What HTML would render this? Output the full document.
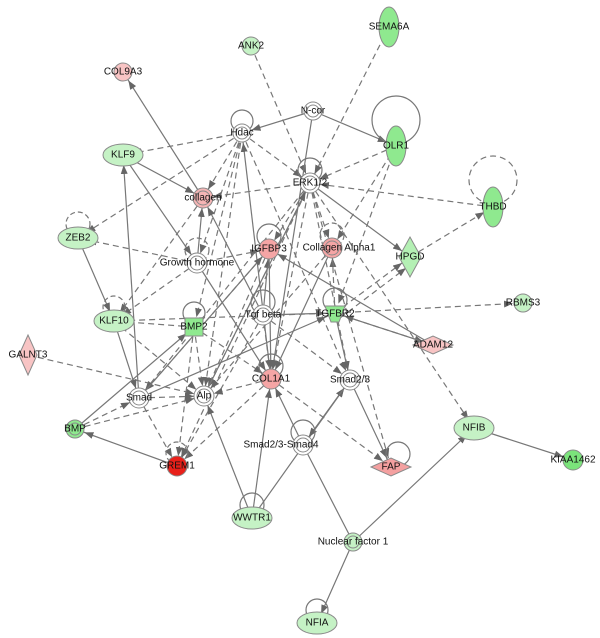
<!DOCTYPE html>
<html><head><meta charset="utf-8"><style>
html,body{margin:0;padding:0;background:#fff;}
svg{display:block;font-family:"Liberation Sans",Arial,sans-serif;}
text{font-size:10px;fill:#111;text-anchor:middle;dominant-baseline:central;}
</style></head><body>
<svg width="600" height="638" viewBox="0 0 600 638" xmlns="http://www.w3.org/2000/svg">
<defs>
<marker id="a" markerUnits="userSpaceOnUse" markerWidth="24" markerHeight="10" refX="19" refY="3.5" orient="auto"><path d="M0,0 L9,3.5 L0,7 z" fill="#666"/></marker>
</defs>
<g stroke="#777" stroke-width="1.2" fill="none" marker-end="url(#a)">
<g stroke-dasharray="6,4">
<line x1="251" y1="46" x2="310" y2="183"/>
<line x1="389" y1="27" x2="310" y2="183"/>
<line x1="396" y1="146" x2="310" y2="183"/>
<line x1="396" y1="146" x2="332" y2="248"/>
<line x1="396" y1="146" x2="335" y2="313"/>
<line x1="493" y1="207" x2="310" y2="183"/>
<line x1="410" y1="257" x2="493" y2="207"/>
<line x1="242" y1="133" x2="123" y2="155"/>
<line x1="242" y1="133" x2="78" y2="238"/>
<line x1="242" y1="133" x2="310" y2="183"/>
<line x1="242" y1="133" x2="350" y2="380"/>
<line x1="242" y1="133" x2="203" y2="198"/>
<line x1="242" y1="133" x2="197" y2="263"/>
<line x1="242" y1="133" x2="204" y2="396"/>
<line x1="242" y1="133" x2="194" y2="327"/>
<line x1="310" y1="183" x2="203" y2="198"/>
<line x1="197" y1="263" x2="78" y2="238"/>
<line x1="197" y1="263" x2="114" y2="321"/>
<line x1="197" y1="263" x2="269" y2="249"/>
<line x1="203" y1="198" x2="114" y2="321"/>
<line x1="194" y1="327" x2="114" y2="321"/>
<line x1="335" y1="313" x2="114" y2="321"/>
<line x1="114" y1="321" x2="204" y2="396"/>
<line x1="335" y1="313" x2="523" y2="303"/>
<line x1="335" y1="313" x2="433" y2="345"/>
<line x1="335" y1="313" x2="410" y2="257"/>
<line x1="340" y1="318" x2="414" y2="262"/>
<line x1="335" y1="313" x2="332" y2="248"/>
<line x1="263" y1="315" x2="271" y2="379"/>
<line x1="310" y1="183" x2="269" y2="249"/>
<line x1="310" y1="183" x2="271" y2="379"/>
<line x1="310" y1="183" x2="350" y2="380"/>
<line x1="310" y1="183" x2="204" y2="396"/>
<line x1="310" y1="183" x2="139" y2="398"/>
<line x1="310" y1="183" x2="177" y2="466"/>
<line x1="310" y1="183" x2="391" y2="467"/>
<line x1="310" y1="183" x2="474" y2="428"/>
<line x1="310" y1="183" x2="332" y2="248"/>
<line x1="28" y1="355" x2="204" y2="396"/>
<line x1="75" y1="429" x2="139" y2="398"/>
<line x1="75" y1="429" x2="204" y2="396"/>
<line x1="194" y1="327" x2="177" y2="466"/>
<line x1="194" y1="327" x2="204" y2="396"/>
<line x1="194" y1="327" x2="271" y2="379"/>
<line x1="139" y1="398" x2="177" y2="466"/>
<line x1="139" y1="398" x2="204" y2="396"/>
<line x1="271" y1="379" x2="177" y2="466"/>
<line x1="271" y1="379" x2="391" y2="467"/>
<line x1="269" y1="249" x2="139" y2="398"/>
<line x1="269" y1="249" x2="204" y2="396"/>
<line x1="332" y1="248" x2="204" y2="396"/>
<line x1="263" y1="315" x2="177" y2="466"/>
<line x1="271" y1="379" x2="204" y2="396"/>
<line x1="263" y1="315" x2="350" y2="380"/>
</g>
<line x1="313" y1="111" x2="396" y2="146"/>
<line x1="313" y1="111" x2="242" y2="133"/>
<line x1="313" y1="111" x2="271" y2="379"/>
<line x1="310" y1="183" x2="410" y2="257"/>
<line x1="271" y1="379" x2="242" y2="133"/>
<line x1="203" y1="198" x2="123" y2="72"/>
<line x1="123" y1="155" x2="203" y2="198"/>
<line x1="139" y1="398" x2="123" y2="155"/>
<line x1="123" y1="155" x2="197" y2="263"/>
<line x1="197" y1="263" x2="203" y2="198"/>
<line x1="197" y1="263" x2="271" y2="379"/>
<line x1="263" y1="315" x2="203" y2="198"/>
<line x1="78" y1="238" x2="114" y2="321"/>
<line x1="114" y1="321" x2="139" y2="398"/>
<line x1="335" y1="313" x2="350" y2="380"/>
<line x1="263" y1="315" x2="269" y2="249"/>
<line x1="263" y1="315" x2="335" y2="313"/>
<line x1="433" y1="345" x2="269" y2="249"/>
<line x1="433" y1="345" x2="335" y2="313"/>
<line x1="75" y1="429" x2="194" y2="327"/>
<line x1="177" y1="466" x2="75" y2="429"/>
<line x1="139" y1="398" x2="269" y2="249"/>
<line x1="252" y1="518" x2="204" y2="396"/>
<line x1="252" y1="518" x2="271" y2="379"/>
<line x1="252" y1="518" x2="350" y2="380"/>
<line x1="303" y1="445" x2="271" y2="379"/>
<line x1="303" y1="445" x2="350" y2="380"/>
<line x1="350" y1="380" x2="303" y2="445"/>
<line x1="350" y1="380" x2="391" y2="467"/>
<line x1="303" y1="445" x2="353" y2="542" marker-end="none"/>
<line x1="353" y1="542" x2="474" y2="428"/>
<line x1="353" y1="542" x2="317" y2="623"/>
<line x1="474" y1="428" x2="573" y2="460"/>
<line x1="332" y1="248" x2="271" y2="379"/>
<line x1="269" y1="249" x2="271" y2="379"/>
<line x1="139" y1="398" x2="335" y2="313"/>
<line x1="204" y1="396" x2="310" y2="183"/>
</g>
<g fill="none" stroke="#777" stroke-width="1.2">
<circle cx="396" cy="120" r="24"/>
<circle cx="493" cy="180" r="24" stroke-dasharray="6,4"/>
<circle cx="242" cy="121" r="11"/>
<circle cx="310" cy="170" r="12"/>
<circle cx="197" cy="250" r="12" stroke-dasharray="5,3"/>
<circle cx="269" cy="236" r="12"/>
<circle cx="332" cy="235" r="12" stroke-dasharray="5,3"/>
<circle cx="263" cy="302" r="12"/>
<circle cx="335" cy="300" r="12"/>
<circle cx="194" cy="313" r="11"/>
<circle cx="114" cy="307" r="11" stroke-dasharray="5,3"/>
<circle cx="78" cy="224" r="12" stroke-dasharray="5,3"/>
<circle cx="271" cy="366" r="12"/>
<circle cx="177" cy="453" r="11" stroke-dasharray="5,3"/>
<circle cx="303" cy="432" r="12"/>
<circle cx="398" cy="454" r="12"/>
<circle cx="252" cy="505" r="12"/>
<circle cx="317" cy="610" r="11"/>
</g>
<g stroke="#8a8a8a" stroke-width="1">
<ellipse cx="389" cy="27" rx="10" ry="20" fill="#8fe98f"/>
<circle cx="251" cy="46" r="9" fill="#c5f2c5"/>
<circle cx="123" cy="72" r="9" fill="#f8c4c4"/>
<circle cx="313" cy="111" r="9" fill="#fff"/><circle cx="313" cy="111" r="6" fill="none"/>
<circle cx="242" cy="133" r="9" fill="#fff"/><circle cx="242" cy="133" r="6" fill="none"/>
<ellipse cx="396" cy="146" rx="10" ry="20" fill="#8fe98f"/>
<ellipse cx="123" cy="155" rx="20" ry="11" fill="#c5f2c5"/>
<circle cx="310" cy="183" r="10" fill="#fff"/><circle cx="310" cy="183" r="7" fill="none"/>
<ellipse cx="493" cy="207" rx="10" ry="20" fill="#8fe98f"/>
<circle cx="203" cy="198" r="10" fill="#f5b5b5"/><circle cx="203" cy="198" r="7" fill="none"/>
<ellipse cx="78" cy="238" rx="20" ry="11" fill="#c5f2c5"/>
<circle cx="197" cy="263" r="10" fill="#fff"/><circle cx="197" cy="263" r="7" fill="none"/>
<circle cx="269" cy="249" r="10" fill="#f5a5a5"/>
<circle cx="332" cy="248" r="10" fill="#f5a5a5"/><circle cx="332" cy="248" r="7" fill="none"/>
<polygon points="410,237 421,257 410,277 399,257" fill="#b4f0b4"/>
<circle cx="523" cy="303" r="9" fill="#c5f2c5"/>
<circle cx="263" cy="315" r="10" fill="#fff"/><circle cx="263" cy="315" r="7" fill="none"/>
<polygon points="325,306 345,306 339,322 331,322" fill="#8fe98f"/>
<ellipse cx="114" cy="321" rx="20" ry="11" fill="#c5f2c5"/>
<rect x="185" y="318" width="18" height="18" fill="#8fe98f"/>
<polygon points="413,345 433,336 453,345 433,354" fill="#f8c4c4"/>
<polygon points="28,335 37,355 28,375 19,355" fill="#f8c4c4"/>
<circle cx="271" cy="379" r="10" fill="#f5a5a5"/>
<circle cx="350" cy="380" r="10" fill="#fff"/><circle cx="350" cy="380" r="7" fill="none"/>
<circle cx="139" cy="398" r="10" fill="#fff"/><circle cx="139" cy="398" r="7" fill="none"/>
<circle cx="204" cy="396" r="10" fill="#fff"/><circle cx="204" cy="396" r="7" fill="none"/>
<circle cx="75" cy="429" r="9" fill="#8fe98f"/><circle cx="75" cy="429" r="6" fill="none"/>
<ellipse cx="474" cy="428" rx="20" ry="12" fill="#c5f2c5"/>
<circle cx="303" cy="445" r="10" fill="#fff"/><circle cx="303" cy="445" r="7" fill="none"/>
<circle cx="573" cy="460" r="10" fill="#7be47b"/>
<circle cx="177" cy="466" r="10" fill="#e8201a"/>
<polygon points="371,467 391,458 411,467 391,476" fill="#f4a0a0"/>
<ellipse cx="252" cy="518" rx="20" ry="11" fill="#c5f2c5"/>
<circle cx="353" cy="542" r="9" fill="#c5f2c5"/><circle cx="353" cy="542" r="6" fill="none"/>
<ellipse cx="317" cy="623" rx="20" ry="11" fill="#c5f2c5"/>
</g>
<g>
<text x="389" y="27">SEMA6A</text>
<text x="251" y="46">ANK2</text>
<text x="123" y="72">COL9A3</text>
<text x="313" y="111">N-cor</text>
<text x="242" y="133">Hdac</text>
<text x="396" y="146">OLR1</text>
<text x="123" y="155">KLF9</text>
<text x="310" y="183">ERK1/2</text>
<text x="493" y="207">THBD</text>
<text x="203" y="198">collagen</text>
<text x="78" y="238">ZEB2</text>
<text x="197" y="263">Growth hormone</text>
<text x="269" y="249">IGFBP3</text>
<text x="339" y="248">Collagen Alpha1</text>
<text x="410" y="257">HPGD</text>
<text x="523" y="303">RBMS3</text>
<text x="263" y="315">Tgf beta</text>
<text x="335" y="314">TGFBR2</text>
<text x="114" y="321">KLF10</text>
<text x="194" y="327">BMP2</text>
<text x="433" y="345">ADAM12</text>
<text x="28" y="355">GALNT3</text>
<text x="271" y="379">COL1A1</text>
<text x="350" y="380">Smad2/3</text>
<text x="139" y="398">Smad</text>
<text x="204" y="396">Alp</text>
<text x="75" y="429">BMP</text>
<text x="474" y="428">NFIB</text>
<text x="281" y="445">Smad2/3-Smad4</text>
<text x="573" y="460">KIAA1462</text>
<text x="177" y="466">GREM1</text>
<text x="391" y="467">FAP</text>
<text x="252" y="518">WWTR1</text>
<text x="353" y="542">Nuclear factor 1</text>
<text x="317" y="623">NFIA</text>
</g>
</svg>
</body></html>
